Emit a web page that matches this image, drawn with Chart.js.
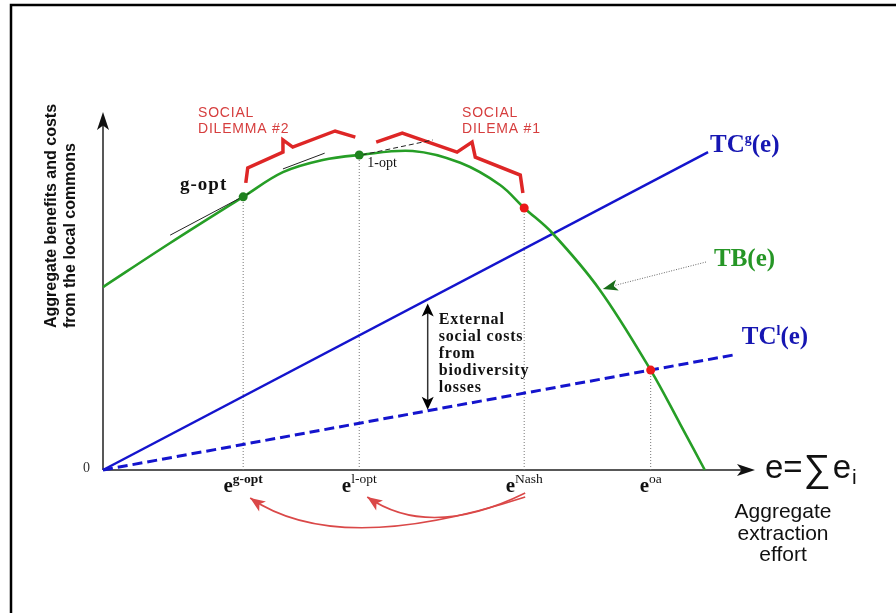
<!DOCTYPE html>
<html lang="en">
<head>
<meta charset="UTF-8">
<title>Local commons: benefits and costs</title>
<script src="https://cdn.jsdelivr.net/npm/chart.js"></script>
<style>
  body { margin: 0; background: #fff; }
  canvas { display: block; }
</style>
</head>
<body>
<canvas id="commonsChart" width="896" height="613"></canvas>
<script>
// effort (x) and benefit/cost (y) both run 0..100, arbitrary units
const tbEffort  = [0, 10.3, 21.5, 27.6, 33.7, 39.3, 47.5, 54.8, 60.9, 64.6, 68.9, 76.2, 84.0, 88.5, 92.3];
const tbValue   = [51.1, 63.4, 76.3, 83.2, 86.6, 88.0, 89.1, 85.8, 79.6, 73.2, 66.2, 50.3, 27.9, 12.9, 0];
const tcgEffort = [0, 92.8];
const tcgValue  = [0, 88.8];
const tclEffort = [0, 96.6];
const tclValue  = [0, 32.1];

const markerNames  = ['g-opt', 'l-opt', 'Nash', 'oa'];
const markerEffort = [21.5, 39.3, 64.6, 84.0];
const markerValue  = [76.3, 88.0, 73.2, 27.9];
const gapEffort = 49.8; // where the external-cost arrow sits

// hand drawn tangents and the two red braces (effort, value pairs)
const tangentG  = [[10.3, 65.6], [22.5, 77.4]];
const tangentL  = [[27.6, 84.1], [34.0, 88.5]];
const tangentL2 = [[39.7, 88.0], [50.6, 92.2]];
const brace2 = [[21.9, 80.2], [22.2, 84.4], [27.6, 88.8], [27.6, 92.2], [29.1, 90.2], [35.6, 94.7], [38.7, 93.0]];
const brace1 = [[41.9, 91.6], [45.9, 94.1], [54.3, 88.8], [56.6, 91.6], [57.1, 87.4], [64.0, 82.4], [64.4, 77.4]];

const pts = (xs, ys) => xs.map((x, i) => ({ x: x, y: ys[i] }));
const pairs = arr => arr.map(p => ({ x: p[0], y: p[1] }));

const SERIF = '"Liberation Serif", "DejaVu Serif", serif';
const SANS = '"Liberation Sans", Arial, sans-serif';

function arrowHead(ctx, tx, ty, angle, len, half, color) {
    ctx.save();
    ctx.translate(tx, ty);
    ctx.rotate(angle);
    ctx.fillStyle = color;
    ctx.beginPath();
    ctx.moveTo(0, 0);
    ctx.lineTo(-len, -half);
    ctx.lineTo(-len * 0.75, 0);
    ctx.lineTo(-len, half);
    ctx.closePath();
    ctx.fill();
    ctx.restore();
}

// draws text pieces one after the other (for superscripts)
function drawRuns(ctx, x, y, runs, color, align) {
    let total = 0;
    runs.forEach(r => {
        ctx.font = r.font;
        ctx.letterSpacing = r.ls || '0px';
        r.w = ctx.measureText(r.t).width + (r.gap || 0);
        total += r.w;
    });
    let cx = align === 'center' ? x - total / 2 : x;
    ctx.fillStyle = color;
    ctx.textAlign = 'left';
    ctx.textBaseline = 'alphabetic';
    runs.forEach(r => {
        ctx.font = r.font;
        ctx.letterSpacing = r.ls || '0px';
        ctx.fillText(r.t, cx, y + (r.dy || 0));
        cx += r.w;
    });
    ctx.letterSpacing = '0px';
}

function curvedArrow(ctx, s, c, e, color) {
    ctx.strokeStyle = color;
    ctx.lineWidth = 1.6;
    ctx.beginPath();
    ctx.moveTo(s[0], s[1]);
    ctx.quadraticCurveTo(c[0], c[1], e[0], e[1]);
    ctx.stroke();
    arrowHead(ctx, e[0], e[1], Math.atan2(e[1] - c[1], e[0] - c[0]), 15, 6, color);
}

const diagramPlugin = {
    id: 'diagram',
    beforeDatasetsDraw(chart) {
        const ctx = chart.ctx, xs = chart.scales.x, ys = chart.scales.y;
        const x0 = xs.getPixelForValue(0), y0 = ys.getPixelForValue(0);
        const xEnd = xs.getPixelForValue(100), yTop = ys.getPixelForValue(100);
        ctx.save();
        // picture frame
        ctx.strokeStyle = '#000';
        ctx.lineWidth = 2.5;
        ctx.beginPath();
        ctx.moveTo(11, 613); ctx.lineTo(11, 5); ctx.lineTo(896, 5);
        ctx.stroke();
        // axes
        ctx.strokeStyle = '#222';
        ctx.lineWidth = 1.5;
        ctx.beginPath();
        ctx.moveTo(x0, y0); ctx.lineTo(x0, yTop + 12);
        ctx.moveTo(x0, y0); ctx.lineTo(xEnd - 12, y0);
        ctx.stroke();
        arrowHead(ctx, x0, yTop, -Math.PI / 2, 18, 6, '#111');
        arrowHead(ctx, xEnd, y0, 0, 18, 6, '#111');
        ctx.restore();
    },
    afterDatasetsDraw(chart) {
        const ctx = chart.ctx, xs = chart.scales.x, ys = chart.scales.y;
        const X = v => xs.getPixelForValue(v), Y = v => ys.getPixelForValue(v);
        const y0 = Y(0);
        ctx.save();

        // y axis title
        ctx.save();
        ctx.translate(56, 328);
        ctx.rotate(-Math.PI / 2);
        ctx.font = 'bold 16px ' + SANS;
        ctx.fillStyle = '#111';
        ctx.textAlign = 'left';
        ctx.fillText('Aggregate benefits and costs', 0, 0);
        ctx.fillText('from the local commons', 0, 19);
        ctx.restore();

        // origin
        ctx.font = '14px ' + SERIF;
        ctx.fillStyle = '#333';
        ctx.fillText('0', 83, y0 + 2);

        // x tick labels e^{...}
        markerNames.forEach((name, i) => {
            const bold = i === 0;
            drawRuns(ctx, X(markerEffort[i]), y0 + 22, [
                { t: 'e', font: 'bold 21px ' + SERIF },
                { t: name, font: (bold ? 'bold ' : '') + '13.5px ' + SERIF, dy: -9 }
            ], '#111', 'center');
        });

        // x axis title
        drawRuns(ctx, 765, y0 + 8, [
            { t: 'e=', font: '33px ' + SANS, gap: 1 },
            { t: '\u2211', font: '38px ' + SANS, dy: 3, gap: 2 },
            { t: 'e', font: '33px ' + SANS, gap: 1 },
            { t: 'i', font: '21px ' + SANS, dy: 6 }
        ], '#111', 'left');
        ctx.font = '21px ' + SANS;
        ctx.fillStyle = '#111';
        ctx.textAlign = 'center';
        ctx.fillText('Aggregate', 783, 518);
        ctx.fillText('extraction', 783, 540);
        ctx.fillText('effort', 783, 561);

        // curve labels
        const tcgEnd = [X(tcgEffort[1]), Y(tcgValue[1])];
        const tclEnd = [X(tclEffort[1]), Y(tclValue[1])];
        drawRuns(ctx, tcgEnd[0] + 2, tcgEnd[1], [
            { t: 'TC', font: 'bold 25px ' + SERIF },
            { t: 'g', font: 'bold 14px ' + SERIF, dy: -9 },
            { t: '(e)', font: 'bold 25px ' + SERIF }
        ], 'rgb(22,22,178)', 'left');
        drawRuns(ctx, tclEnd[0] + 9, tclEnd[1] - 11, [
            { t: 'TC', font: 'bold 25px ' + SERIF },
            { t: 'l', font: 'bold 14px ' + SERIF, dy: -9 },
            { t: '(e)', font: 'bold 25px ' + SERIF }
        ], 'rgb(22,22,178)', 'left');
        drawRuns(ctx, 714, 266, [{ t: 'TB(e)', font: 'bold 25px ' + SERIF }], 'rgb(38,150,38)', 'left');

        // pointer from TB label to the curve
        const tip = [X(tbEffort[11]) + 3, Y(tbValue[11]) - 1];
        ctx.strokeStyle = '#666';
        ctx.lineWidth = 1;
        ctx.setLineDash([1, 1.5]);
        ctx.beginPath();
        ctx.moveTo(706, 262);
        ctx.lineTo(tip[0] + 10, tip[1] - 3);
        ctx.stroke();
        ctx.setLineDash([]);
        arrowHead(ctx, tip[0], tip[1], Math.atan2(tip[1] - 262, tip[0] - 706), 15, 5.5, 'rgb(25,110,25)');

        // external social cost arrow
        const ax = X(gapEffort);
        const aTop = Y(tcgValue[1] / tcgEffort[1] * gapEffort) + 4;
        const aBot = Y(tclValue[1] / tclEffort[1] * gapEffort) - 1;
        ctx.strokeStyle = '#333';
        ctx.lineWidth = 1.5;
        ctx.beginPath();
        ctx.moveTo(ax, aTop + 8); ctx.lineTo(ax, aBot - 8);
        ctx.stroke();
        arrowHead(ctx, ax, aTop, -Math.PI / 2, 13, 6, '#000');
        arrowHead(ctx, ax, aBot, Math.PI / 2, 13, 6, '#000');
        const lines = ['External', 'social costs', 'from', 'biodiversity', 'losses'];
        lines.forEach((t, i) => {
            drawRuns(ctx, ax + 11, aTop + 21 + i * 17, [{ t: t, font: 'bold 16px ' + SERIF, ls: '0.8px' }], '#111', 'left');
        });

        // point labels
        drawRuns(ctx, 180, 190, [{ t: 'g-opt', font: 'bold 19px ' + SERIF, ls: '1px' }], '#111', 'left');
        drawRuns(ctx, X(markerEffort[1]) + 8, Y(markerValue[1]) + 12, [{ t: '1-opt', font: '14px ' + SERIF }], '#111', 'left');

        // dilemma captions
        const red = 'rgb(214,62,62)';
        drawRuns(ctx, 198, 117, [{ t: 'SOCIAL', font: '14px ' + SANS, ls: '0.8px' }], red, 'left');
        drawRuns(ctx, 198, 133, [{ t: 'DILEMMA #2', font: '14px ' + SANS, ls: '0.8px' }], red, 'left');
        drawRuns(ctx, 462, 117, [{ t: 'SOCIAL', font: '14px ' + SANS, ls: '0.8px' }], red, 'left');
        drawRuns(ctx, 462, 133, [{ t: 'DILEMA #1', font: '14px ' + SANS, ls: '0.8px' }], red, 'left');

        // red arrows back from Nash
        const xg = X(markerEffort[0]), xl = X(markerEffort[1]), xn = X(markerEffort[2]);
        const arrowRed = 'rgb(218,72,72)';
        curvedArrow(ctx, [xn + 1, y0 + 27], [(xg + xn) / 2 - 46, y0 + 88], [xg + 7, y0 + 28], arrowRed);
        curvedArrow(ctx, [xn + 1, y0 + 23], [(xl + xn) / 2 - 12, y0 + 70], [xl + 8, y0 + 27], arrowRed);

        ctx.restore();
    }
};

const lineSet = (data, color, width, extra) => Object.assign({
    data: data, showLine: true, borderColor: color, borderWidth: width,
    pointRadius: 0, fill: false, clip: false, order: 3
}, extra || {});

const datasets = [
    // markers on top
    {
        data: pts(markerEffort, markerValue),
        pointRadius: 4.5,
        pointBackgroundColor: ['rgb(30,130,30)', 'rgb(30,130,30)', 'rgb(235,25,25)', 'rgb(235,25,25)'],
        pointBorderWidth: 0,
        showLine: false,
        clip: false,
        order: 0
    },
    lineSet(pts(tbEffort, tbValue), 'rgb(38,158,38)', 2.6, { tension: 0.35 }),
    lineSet(pts(tcgEffort, tcgValue), 'rgb(20,20,205)', 2.5),
    lineSet(pts(tclEffort, tclValue), 'rgb(20,20,205)', 3, { borderDash: [10, 5] }),
    lineSet(pairs(tangentG), '#222', 1, { order: 2 }),
    lineSet(pairs(tangentL), '#222', 1, { order: 2 }),
    lineSet(pairs(tangentL2), '#222', 1, { order: 2, borderDash: [5, 3] }),
    lineSet(pairs(brace2), 'rgb(222,38,38)', 3.5, { borderJoinStyle: 'miter' }),
    lineSet(pairs(brace1), 'rgb(222,38,38)', 3.5, { borderJoinStyle: 'miter' })
];
// dotted drop lines from each marker to the effort axis
markerEffort.forEach((x, i) => {
    datasets.push(lineSet([{ x: x, y: 0 }, { x: x, y: markerValue[i] }], '#777', 1, { borderDash: [1, 2], order: 6 }));
});

const commonsChart = new Chart(document.getElementById('commonsChart'), {
    type: 'scatter',
    data: { datasets: datasets },
    options: {
        responsive: false,
        animation: false,
        events: [],
        layout: { padding: { left: 103, right: 141, top: 112, bottom: 143 } },
        scales: {
            x: { type: 'linear', min: 0, max: 100, display: false },
            y: { type: 'linear', min: 0, max: 100, display: false }
        },
        plugins: {
            legend: { display: false },
            tooltip: { enabled: false }
        }
    },
    plugins: [diagramPlugin]
});
</script>
</body>
</html>
